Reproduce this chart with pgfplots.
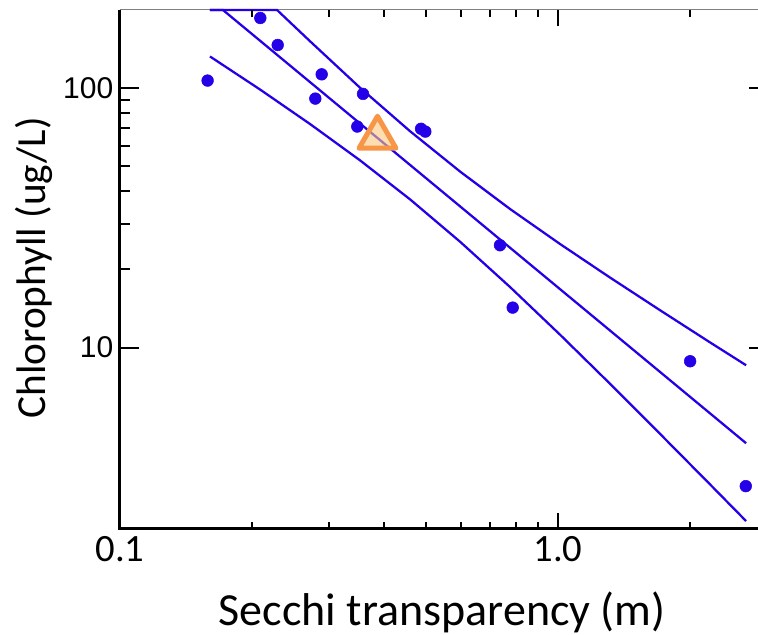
\documentclass[border=0pt]{standalone}
\usepackage{fontspec}
\setmainfont{Carlito}
\newfontfamily\arialfont{Liberation Sans}
\usepackage{pgfplots}
\pgfplotsset{compat=1.18}

\definecolor{ptblue}{RGB}{36,0,232}
\definecolor{triorange}{RGB}{247,150,70}
\definecolor{trifill}{RGB}{252,200,125}

\begin{document}
\begin{tikzpicture}
\begin{axis}[
  xmode=log, ymode=log,
  xmin=0.1, xmax=2.86, ymin=2, ymax=200,
  scale only axis, width=478.5pt, height=389.25pt,
  at={(0,0)}, anchor=south west,
  axis line style={draw=none},
  tick align=inside,
  tick style={black, line width=1.5pt},
  clip=false,
  xtick=\empty, xminorticks=false,
  ytick={10,100}, yticklabels={10,100},
  minor ytick={20,30,40,50,60,70,80,90},
  ytick pos=left,
  major tick length=14pt, minor tick length=7.5pt,
  yticklabel style={font=\arialfont\fontsize{22.5}{27}\selectfont, xshift=-1.5pt},
  xlabel={Secchi transparency (m)},
  ylabel={Chlorophyll (ug/L)},
  xlabel style={font=\fontsize{34.5}{40}\selectfont, at={(axis description cs:0.505,-0.185)}, anchor=base},
  ylabel style={font=\fontsize{31}{36}\selectfont, at={(axis description cs:-0.117,0.503)}, anchor=base},
]
\draw[line width=2.25pt] (rel axis cs:0,1) -- (rel axis cs:0,0) -- (rel axis cs:1,0);
\draw[gray, line width=0.75pt] (rel axis cs:0,1) -- (rel axis cs:1,1);

% upper band
\addplot[ptblue, line width=1.7pt] coordinates {
  (0.1605,200) (0.2283,200) (0.2716,151.5) (0.3530,100.4) (0.4594,68.2)
  (0.5974,47.7) (0.7772,34.2) (1.0106,25.07) (1.3146,18.61) (1.7096,13.93)
  (2.2233,10.47) (2.687,8.55)};
% fit
\addplot[ptblue, line width=1.7pt] coordinates {
  (0.1605,200) (0.1718,200) (2.687,4.28)};
% lower band
\addplot[ptblue, line width=1.7pt] coordinates {
  (0.1605,132.4) (0.2089,98.7) (0.2716,72.7) (0.3530,52.7) (0.4594,37.26)
  (0.5974,25.59) (0.7772,17.11) (1.0106,11.21) (1.3146,7.25) (1.7096,4.65)
  (2.2233,2.970) (2.687,2.145)};

% observations
\addplot[only marks, mark=*, mark size=4.4pt, ptblue, mark options={draw=none}] coordinates {
  (0.1585,106.9) (0.2091,186.3) (0.2291,146.6) (0.2887,113.0) (0.2792,91.1)
  (0.3587,95.0) (0.3481,71.1) (0.4866,69.7) (0.4977,68.0) (0.737,24.8)
  (0.788,14.26) (2.002,8.86) (2.682,2.925)};

% highlighted value
\addplot[only marks, mark=triangle*, mark size=16pt,
  mark options={draw=triorange, fill=trifill, fill opacity=0.6, line width=3.75pt, line join=round}]
  coordinates {(0.3871,64.5)};
\end{axis}

% x ticks, bottom and top
\begin{axis}[
  xmode=log, ymode=log,
  xmin=0.1, xmax=2.86, ymin=2, ymax=200,
  scale only axis, width=478.5pt, height=389.25pt,
  at={(0,0)}, anchor=south west,
  axis line style={draw=none},
  tick align=inside,
  tick style={black, line width=1.5pt},
  xtick={0.1,1}, xticklabels={0.1,1.0},
  minor xtick={0.2,0.3,0.4,0.5,0.6,0.7,0.8,0.9,2},
  xtick pos=both, xticklabel pos=lower,
  ytick=\empty, yminorticks=false,
  major tick length=12pt, minor tick length=5.5pt,
  xticklabel style={font=\fontsize{29}{34}\selectfont, yshift=-2.3pt},
]
\end{axis}

% right y ticks
\begin{axis}[
  xmode=log, ymode=log,
  xmin=0.1, xmax=2.86, ymin=2, ymax=200,
  scale only axis, width=478.5pt, height=389.25pt,
  at={(0,0)}, anchor=south west,
  axis line style={draw=none},
  tick align=inside,
  tick style={black, line width=1.5pt},
  xtick=\empty, xminorticks=false,
  ytick={10,100}, yticklabels={}, yminorticks=false,
  ytick pos=right,
  major tick length=7pt,
]
\end{axis}

\pgfresetboundingbox
\path[use as bounding box] (-90pt,-79.5pt) rectangle (478.5pt,396.75pt);
\end{tikzpicture}
\end{document}
